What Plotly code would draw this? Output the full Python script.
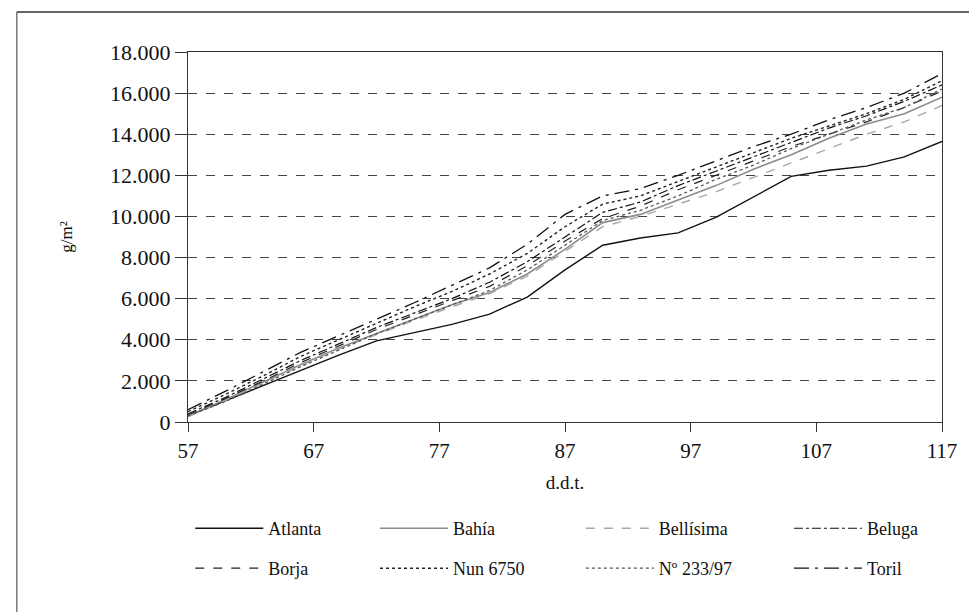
import plotly.graph_objects as go

days = [57, 60, 63, 66, 69, 72, 75, 78, 81, 84, 87, 90, 93, 96, 99, 102, 105, 108, 111, 114, 117]

atlanta   = [300, 1040, 1780, 2520, 3250, 3950, 4350, 4750, 5250, 6080, 7400, 8600, 8950, 9200, 9950, 10950, 11950, 12250, 12450, 12900, 13650]
bahia     = [300, 1100, 1950, 2800, 3600, 4300, 5000, 5700, 6300, 7200, 8400, 9700, 10100, 10800, 11500, 12300, 13000, 13800, 14500, 15000, 15800]
bellisima = [250, 1050, 1900, 2750, 3550, 4250, 4950, 5600, 6250, 7100, 8300, 9500, 10000, 10600, 11200, 11900, 12600, 13300, 14000, 14600, 15400]
beluga    = [400, 1200, 2100, 3000, 3800, 4600, 5300, 6000, 6800, 7800, 9000, 10200, 10700, 11500, 12200, 12900, 13600, 14300, 14900, 15600, 16400]
borja     = [350, 1150, 2000, 2900, 3700, 4500, 5200, 5900, 6600, 7600, 8800, 9900, 10500, 11300, 12000, 12700, 13400, 14000, 14600, 15300, 16100]
nun6750   = [500, 1350, 2250, 3200, 4000, 4800, 5600, 6350, 7200, 8200, 9500, 10600, 11000, 11700, 12400, 13100, 13800, 14400, 15000, 15700, 16600]
n23397    = [300, 1000, 1850, 2700, 3500, 4300, 5000, 5700, 6400, 7400, 8600, 9800, 10300, 11000, 11800, 12500, 13300, 14000, 14700, 15300, 16200]
toril     = [600, 1500, 2450, 3400, 4200, 5000, 5800, 6650, 7500, 8650, 10100, 11000, 11350, 12000, 12700, 13400, 14000, 14700, 15300, 16000, 16950]

x_ticks = [57, 67, 77, 87, 97, 107, 117]
y_ticks = [0, 2000, 4000, 6000, 8000, 10000, 12000, 14000, 16000, 18000]

series = [
    ("Atlanta", atlanta, "#111111", "solid", 1.4),
    ("Bahía", bahia, "#8c8c8c", "solid", 1.6),
    ("Bellísima", bellisima, "#a8a8a8", "dash", 1.4),
    ("Beluga", beluga, "#111111", "dashdot", 1.2),
    ("Borja", borja, "#222222", "dash", 1.2),
    ("Nun 6750", nun6750, "#222222", "dot", 1.4),
    ("Nº 233/97", n23397, "#555555", "dot", 1.3),
    ("Toril", toril, "#111111", "longdashdot", 1.3),
]

# legend slots: column (paper x) and row (paper y), one legend per entry
col_x = [0.003, 0.248, 0.521, 0.797]
row_y = [-0.238, -0.346]

font = "Liberation Serif"
fig = go.Figure()
legends = {}
for i, (name, vals, color, dash, width) in enumerate(series):
    key = "legend" if i == 0 else f"legend{i + 1}"
    fig.add_trace(go.Scatter(x=days, y=vals, mode="lines", name=name,
                             line=dict(color=color, dash=dash, width=width),
                             legend=key))
    legends[key] = dict(orientation="h", x=col_x[i % 4], y=row_y[i // 4],
                        xanchor="left", yanchor="top",
                        font=dict(family=font, size=18, color="#111111"),
                        itemwidth=68, bgcolor="rgba(0,0,0,0)")

fig.update_layout(
    width=969, height=604,
    margin=dict(l=180, r=35, t=44, b=190),
    paper_bgcolor="white", plot_bgcolor="white",
    font=dict(family=font, color="#111111", size=20),
    separators=",.",
    showlegend=True,
    shapes=[
        dict(type="line", xref="paper", yref="paper", x0=-0.227, x1=1.06, y0=1.108, y1=1.108,
             line=dict(color="#333333", width=1.5)),
        dict(type="line", xref="paper", yref="paper", x0=-0.227, x1=-0.227, y0=1.108, y1=-0.55,
             line=dict(color="#555555", width=1.2)),
    ],
    **legends,
)

fig.update_xaxes(
    range=[57, 117], tickvals=x_ticks, ticktext=[str(v) for v in x_ticks],
    showline=True, linecolor="#333333", linewidth=1.2, mirror=True,
    ticks="outside", ticklen=9, tickcolor="#333333", ticklabelstandoff=1,
    showgrid=False, zeroline=False,
    tickfont=dict(family=font, size=21),
    title=dict(text="d.d.t.", font=dict(family=font, size=19), standoff=13),
)
fig.update_yaxes(
    range=[0, 18000], tickvals=y_ticks, tickformat=",",
    showline=True, linecolor="#333333", linewidth=1.2, mirror=True,
    ticks="outside", ticklen=12, tickcolor="#333333",
    showgrid=True, gridcolor="#444444", griddash="dash", gridwidth=1,
    zeroline=False,
    tickfont=dict(family=font, size=22),
    title=dict(text="g/m²", font=dict(family=font, size=17), standoff=33),
)

fig.write_html("out.html")
